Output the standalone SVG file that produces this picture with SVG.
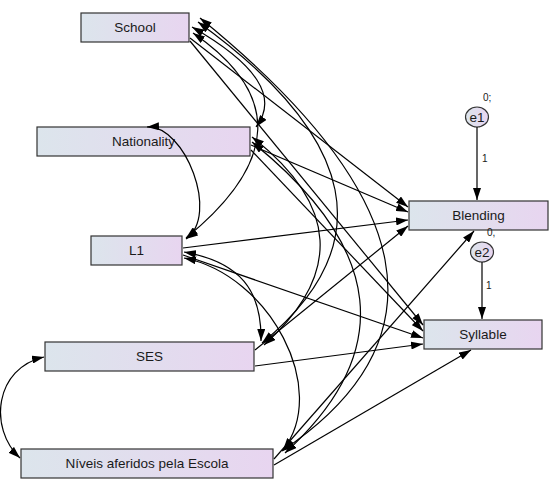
<svg xmlns="http://www.w3.org/2000/svg" width="552" height="481" viewBox="0 0 552 481">
<style>
.box{stroke:#333;stroke-width:1.2;fill:url(#g)}
.lbl{font-family:"Liberation Sans",Arial,sans-serif;font-size:13.5px;fill:#1a1a1a;text-anchor:middle}
.small{font-family:"Liberation Sans",Arial,sans-serif;font-size:10px;fill:#1a1a1a}
.c{fill:none;stroke:#000;stroke-width:1.2;marker-start:url(#ah);marker-end:url(#ah)}
.r{fill:none;stroke:#000;stroke-width:1.2;marker-end:url(#ah)}
</style>
<defs>
<linearGradient id="g" x1="0" y1="0" x2="1" y2="0">
<stop offset="0" stop-color="#dce5ec"/>
<stop offset="1" stop-color="#e8d5f0"/>
</linearGradient>
<marker id="ah" viewBox="0 0 12 8" refX="12" refY="4" markerWidth="12" markerHeight="8" markerUnits="userSpaceOnUse" orient="auto-start-reverse">
<path d="M0,0 L12,4 L0,8 z" fill="#000"/>
</marker>
</defs>
<rect width="552" height="481" fill="#fff"/>
<g id="school"><rect class="box" x="81" y="13" width="108" height="29"/><text class="lbl" x="135" y="32">School</text></g>
<g id="nationality"><rect class="box" x="37" y="127" width="213" height="29"/><text class="lbl" x="143.5" y="146">Nationality</text></g>
<g id="l1"><rect class="box" x="91" y="236" width="91" height="29"/><text class="lbl" x="136.5" y="255">L1</text></g>
<g id="ses"><rect class="box" x="45" y="342" width="209" height="29"/><text class="lbl" x="149.5" y="361">SES</text></g>
<g id="niveis"><rect class="box" x="21" y="449" width="252" height="29"/><text class="lbl" x="147" y="468">Níveis aferidos pela Escola</text></g>
<g id="blending"><rect class="box" x="409" y="201" width="139" height="29"/><text class="lbl" x="478.5" y="220">Blending</text></g>
<g id="syllable"><rect class="box" x="424" y="320" width="118" height="29"/><text class="lbl" x="483" y="339">Syllable</text></g>
<g id="e1"><ellipse class="box" cx="477" cy="117" rx="11.5" ry="10"/><text class="lbl" x="477" y="122">e1</text><text class="small" x="483" y="101">0;</text><text class="small" x="482" y="162">1</text></g>
<g id="e2"><ellipse class="box" cx="482" cy="252" rx="11.5" ry="10"/><text class="lbl" x="482" y="257">e2</text><text class="small" x="487" y="236">0,</text><text class="small" x="486" y="289">1</text></g>
<g id="connectors">
<path class="c" d="M192,27 Q290,83 256,127"/>
<path class="c" d="M193,33 Q326,124 186,238"/>
<path class="c" d="M198,22 Q440,197 262,343"/>
<path class="c" d="M200,18 Q529,285 282,451"/>
<path class="c" d="M147,127 C185,125 220,215 186,239"/>
<path class="c" d="M252,137 Q382,239 264,345"/>
<path class="c" d="M252,142 Q451,302 285,453"/>
<path class="c" d="M184,252 C240,262 262,290 261,341"/>
<path class="c" d="M184,258 C270,275 330,390 283,450"/>
<path class="c" d="M44,357 C-5,368 -12,428 20,458"/>
<path class="r" d="M190,38 L408,207"/>
<path class="r" d="M190,41 L423,325"/>
<path class="r" d="M251,145 L408,212"/>
<path class="r" d="M251,150 L423,331"/>
<path class="r" d="M183,248 L408,220"/>
<path class="r" d="M183,255 L423,338"/>
<path class="r" d="M255,350 L408,226"/>
<path class="r" d="M255,366 L423,344"/>
<path class="r" d="M274,459 L474,231"/>
<path class="r" d="M274,465 L471,350"/>
<path class="r" d="M477,127 L477,200"/>
<path class="r" d="M482,262 L482,319"/>
</g>
</svg>
